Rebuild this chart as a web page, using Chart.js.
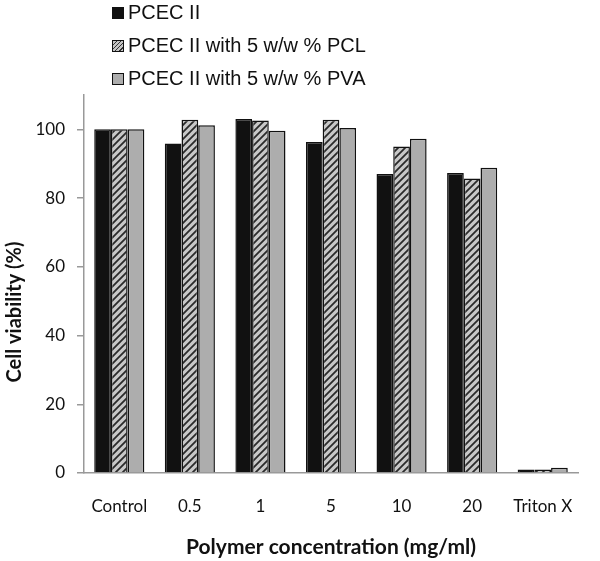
<!DOCTYPE html>
<html><head><meta charset="utf-8">
<script src="https://cdn.jsdelivr.net/npm/chart.js@4.4.1/dist/chart.umd.min.js"></script>
<style>
html,body{margin:0;padding:0;background:#fff;}
#wrap{position:relative;width:600px;height:561px;}
#legend{position:absolute;left:112px;top:-4px;font-family:"Liberation Sans",Arial,sans-serif;font-size:20px;color:#111;}
.item{display:flex;align-items:center;height:33px;}
.box{width:10px;height:10px;border:1px solid #111;margin-right:4px;}
</style></head>
<body><div id="wrap"><canvas id="c" width="600" height="561"></canvas>
<div id="legend"></div></div>
<script>
const categories = ["Control","0.5","1","5","10","20","Triton X"];
const seriesNames = ["PCEC II","PCEC II with 5 w/w % PCL","PCEC II with 5 w/w % PVA"];
const pcec = [100, 95.9, 103.0, 96.3, 87.0, 87.3, 1.0];
const pcecPCL = [100, 102.8, 102.6, 102.8, 95.0, 85.7, 1.0];
const pcecPVA = [100, 101.2, 99.6, 100.4, 97.3, 88.8, 1.5];
const yTicks = [0,20,40,60,80,100];
const yTitle = "Cell viability (%)";
const xTitle = "Polymer concentration (mg/ml)";

function hatch(){
  const s=7;
  const p=document.createElement('canvas');p.width=s;p.height=s;
  const g=p.getContext('2d');
  g.fillStyle='#c8c8c8';g.fillRect(0,0,s,s);
  g.strokeStyle='#2a2a2a';g.lineWidth=1.8;
  g.beginPath();
  g.moveTo(0,s);g.lineTo(s,0);
  g.moveTo(-s/2,s/2);g.lineTo(s/2,-s/2);
  g.moveTo(s/2,s*1.5);g.lineTo(s*1.5,s/2);
  g.stroke();
  return document.getElementById('c').getContext('2d').createPattern(p,'repeat');
}
const hp = hatch();
const fills = ['#111111', hp, '#adadad'];
const vals = [pcec, pcecPCL, pcecPVA];

const leg=document.getElementById('legend');
seriesNames.forEach((n,i)=>{
  const it=document.createElement('div');it.className='item';
  const b=document.createElement('div');b.className='box';
  if(i===0)b.style.background='#111';
  else if(i===1)b.style.background='repeating-linear-gradient(-45deg,#c4c4c4 0 2px,#333 2px 3px)';
  else b.style.background='#adadad';
  it.appendChild(b);
  const t=document.createElement('span');t.textContent=n;it.appendChild(t);
  leg.appendChild(it);
});

const yTitlePlugin={id:'ytitle',afterDraw(chart){
  const ctx=chart.ctx;ctx.save();
  ctx.translate(15,312);ctx.rotate(-Math.PI/2);
  ctx.font='bold 20px Lato';ctx.fillStyle='#111';ctx.textAlign='center';ctx.textBaseline='middle';
  ctx.fillText(yTitle,0,0);ctx.restore();
}};

new Chart(document.getElementById('c'),{
  type:'bar',
  data:{labels:categories,datasets:vals.map((v,i)=>({label:seriesNames[i],data:v,backgroundColor:fills[i],borderColor:'#111',borderWidth:1.5,categoryPercentage:0.71,barPercentage:1.0}))},
  plugins:[yTitlePlugin],
  options:{
    responsive:false,animation:false,
    layout:{padding:{top:95,right:22,left:0,bottom:0}},
    plugins:{legend:{display:false},tooltip:{enabled:false}},
    scales:{
      x:{grid:{display:false},border:{color:'#999',width:1.5},
         ticks:{color:'#111',font:{family:'Lato',size:17},padding:15,maxRotation:0},
         title:{display:true,text:xTitle,color:'#111',font:{family:'Lato',size:21,weight:'bold'},padding:{top:4,bottom:1}},
         afterFit:s=>{s.height=88;}},
      y:{min:0,max:110,
         afterBuildTicks:s=>{s.ticks=yTicks.map(v=>({value:v}));},
         grid:{drawOnChartArea:false,tickLength:7,color:'#999',lineWidth:1.5},
         border:{color:'#999',width:1.5},
         ticks:{color:'#111',font:{family:'Lato',size:17},padding:12},
         afterFit:s=>{s.width=84;}}
    }
  }
});
</script></body></html>
